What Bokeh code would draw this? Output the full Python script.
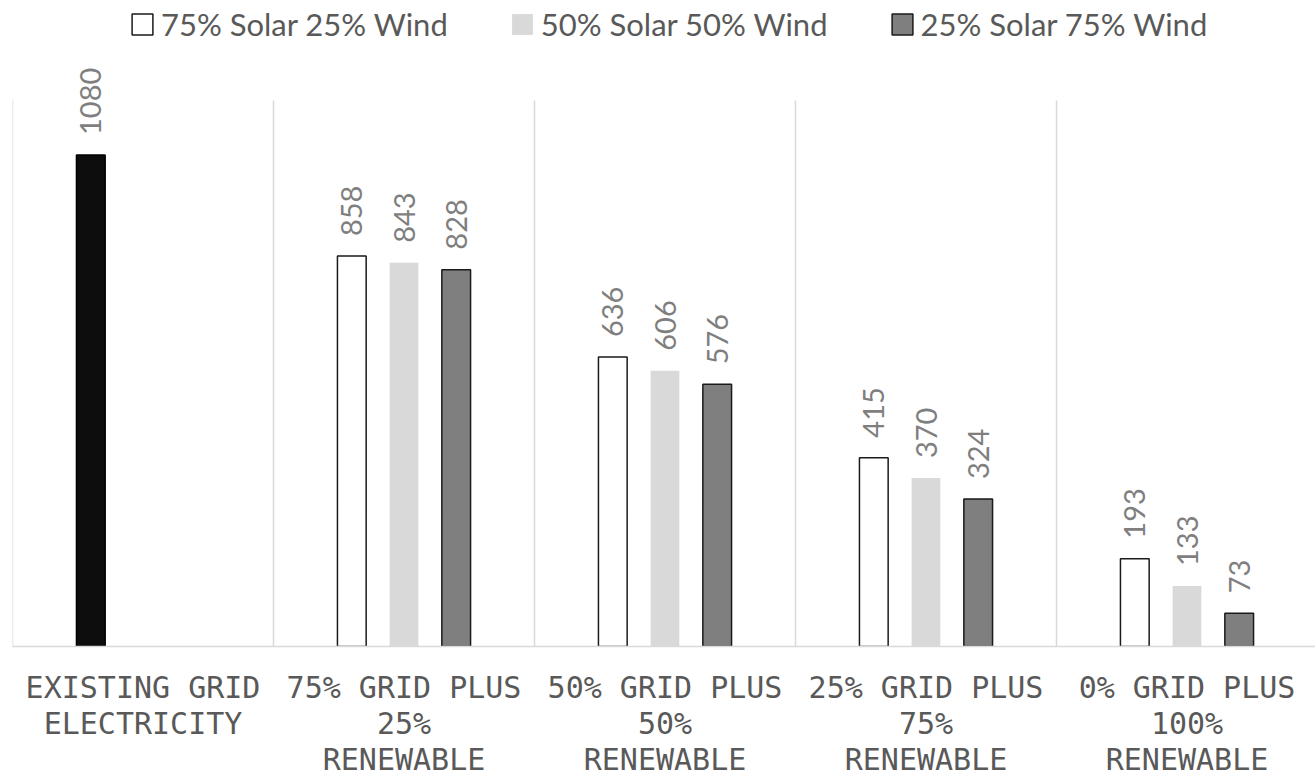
import math
from bokeh.plotting import figure
from bokeh.models import ColumnDataSource, FixedTicker, Legend, LegendItem, Range1d
from bokeh.transform import dodge
from bokeh.core.properties import value
from bokeh.embed import file_html
from bokeh.resources import INLINE

categories = [
    "EXISTING GRID\nELECTRICITY",
    "75% GRID PLUS\n25%\nRENEWABLE",
    "50% GRID PLUS\n50%\nRENEWABLE",
    "25% GRID PLUS\n75%\nRENEWABLE",
    "0% GRID PLUS\n100%\nRENEWABLE",
]
series_names = ["75% Solar 25% Wind", "50% Solar 50% Wind", "25% Solar 75% Wind"]
existing_grid = [1080, None, None, None, None]
solar75_wind25 = [None, 858, 636, 415, 193]
solar50_wind50 = [None, 843, 606, 370, 133]
solar25_wind75 = [None, 828, 576, 324, 73]
value_axis_max = 1200


def make_source(vals):
    xs, vs, labels = [], [], []
    for i, v in enumerate(vals):
        if v is None:
            continue
        xs.append(i)
        vs.append(v)
        labels.append(str(v))
    return ColumnDataSource(dict(x=xs, v=vs, label=labels))


FIG_W, FIG_H = 1315, 779
LEFT = 12
CAT_PX = 261.0
FRAME_W = FIG_W - LEFT
FRAME_H = 648
PX_PER_UNIT = 0.4565
p = figure(
    width=FIG_W, height=FIG_H,
    x_range=Range1d(-0.5, -0.5 + FRAME_W / CAT_PX),
    y_range=Range1d(0, FRAME_H / PX_PER_UNIT),
    output_backend="svg", toolbar_location=None,
    y_axis_location=None,
    min_border_left=LEFT, min_border_right=0, min_border_top=0, min_border_bottom=0,
)
p.outline_line_color = None
p.background_fill_color = "white"
p.border_fill_color = "white"
p.ygrid.grid_line_color = None
p.xgrid.grid_line_color = None

# category separators
n = len(categories)
bounds = [i - 0.5 for i in range(n + 1)]
p.segment(x0=bounds, x1=bounds, y0=[0] * len(bounds), y1=[value_axis_max] * len(bounds),
          line_color="#d9d9d9", line_width=1.5)

ax = p.xaxis[0]
ax.ticker = FixedTicker(ticks=list(range(n)))
ax.major_label_overrides = {i: c for i, c in enumerate(categories)}
ax.axis_line_color = "#d9d9d9"
ax.axis_line_width = 1.5
ax.major_tick_line_color = None
ax.minor_tick_line_color = None
ax.major_tick_out = 0
ax.major_tick_in = 0
ax.minor_tick_out = 0
ax.major_label_text_font = "DejaVu Sans Mono"
ax.major_label_text_font_size = "30px"
ax.major_label_text_color = "#595959"
ax.major_label_standoff = 23
ax.major_label_text_line_height = 1.03

W = 0.11
OFF = 0.2
label_kw = dict(angle=math.pi / 2, text_align="left", text_baseline="middle",
                y_offset=-20, text_font=value("Lato"), text_font_size="29px",
                text_color="#7f7f7f")

src_e = make_source(existing_grid)
p.vbar(x=dodge("x", -OFF), top="v", width=W, source=src_e,
       fill_color="#0d0d0d", line_color="#000000", line_width=1.5)
p.text(x=dodge("x", -OFF), y="v", text="label", source=src_e, **label_kw)

styles = [
    dict(fill_color="#ffffff", line_color="#1a1a1a", line_width=1.5),
    dict(fill_color="#d9d9d9", line_color=None),
    dict(fill_color="#7f7f7f", line_color="#1a1a1a", line_width=1.5),
]
renderers = []
for vals, off, st in zip([solar75_wind25, solar50_wind50, solar25_wind75], [-OFF, 0, OFF], styles):
    src = make_source(vals)
    r = p.vbar(x=dodge("x", off), top="v", width=W, source=src, **st)
    p.text(x=dodge("x", off), y="v", text="label", source=src, **label_kw)
    renderers.append(r)

legend = Legend(
    items=[LegendItem(label=nm, renderers=[r]) for nm, r in zip(series_names, renderers)],
    orientation="horizontal", location=(117, 603),
    label_text_font="Lato", label_text_font_size="31px", label_text_color="#595959",
    glyph_width=26, glyph_height=26, label_standoff=6, spacing=61,
    padding=0, margin=0, border_line_color=None, background_fill_alpha=0,
)
p.add_layout(legend, "center")

open("out.html", "w").write(file_html(p, INLINE))
